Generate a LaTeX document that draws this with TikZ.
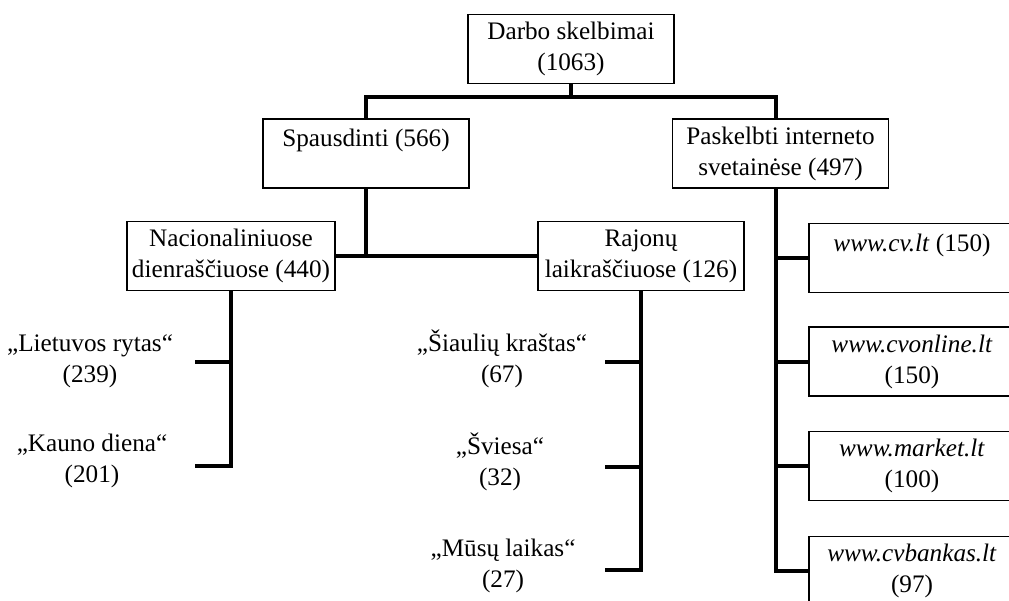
\documentclass[tikz,border=0pt]{standalone}
\usepackage{fontspec}
\setmainfont{Liberation Serif}
\tikzstyle{box} = [rectangle, draw, line width=0.6pt, align=center,
    minimum width=103pt, minimum height=34.5pt, inner sep=1pt]
\tikzstyle{leaf} = [align=center, inner sep=1pt]
\tikzstyle{conn} = [line width=2pt]

\begin{document}
\begin{tikzpicture}[x=0.5pt,y=-0.5pt,font=\fontsize{12.6}{15.5}\selectfont]
  \useasboundingbox (0,0) rectangle (1009,601);

  \node[box] (top)   at (571,49)    {Darbo skelbimai\\(1063)};
  \node[box] (spaus) at (366,153.5) {Spausdinti (566)\\~};
  \node[box, minimum width=108pt] (pask) at (780.5,153.5) {Paskelbti interneto\\svetainėse (497)};
  \node[box, minimum width=104pt] (nac)  at (231,256) {Nacionaliniuose\\dienraščiuose (440)};
  \node[box] (rajon) at (641,256)   {Rajonų\\laikraščiuose (126)};

  \node[box] (cv)  at (912,258)   {\textit{www.cv.lt} (150)\\~};
  \node[box] (cvo) at (912,361.5) {\textit{www.cvonline.lt}\\(150)};
  \node[box] (mkt) at (912,466)   {\textit{www.market.lt}\\(100)};
  \node[box] (cvb) at (912,571)   {\textit{www.cvbankas.lt}\\(97)};

  \node[leaf] (lr) at (90,361)  {„Lietuvos rytas“\\(239)};
  \node[leaf] (kd) at (92,461)  {„Kauno diena“\\(201)};
  \node[leaf] (sk) at (502,359) {„Šiaulių kraštas“\\(67)};
  \node[leaf] (sv) at (500,462) {„Šviesa“\\(32)};
  \node[leaf] (ml) at (503,566) {„Mūsų laikas“\\(27)};

  \coordinate (hub)   at (571,97);
  \coordinate (trunk) at (776,570);
  \coordinate (lrb) at (195,362);
  \coordinate (kdb) at (195,466);
  \coordinate (skb) at (605,362);
  \coordinate (svb) at (605,467);
  \coordinate (mlb) at (605,570);

  \draw[conn] (top.south) -- (hub);
  \draw[conn] (spaus.north) |- (hub) -| (trunk |- pask.north);
  \draw[conn] (spaus.south) -- (spaus.south |- nac.east);
  \draw[conn] (nac.east) -- (rajon.west);

  \draw[conn] (nac.south) |- (kdb);
  \draw[conn] (lrb) -- (lrb -| nac.south);

  \draw[conn] (rajon.south) |- (mlb);
  \draw[conn] (skb) -- (skb -| rajon.south);
  \draw[conn] (svb) -- (svb -| rajon.south);

  \draw[conn] (trunk |- pask.south) |- (cvb.west);
  \draw[conn] (trunk |- cv.west) -- (cv.west);
  \draw[conn] (trunk |- cvo.west) -- (cvo.west);
  \draw[conn] (trunk |- mkt.west) -- (mkt.west);
\end{tikzpicture}
\end{document}
